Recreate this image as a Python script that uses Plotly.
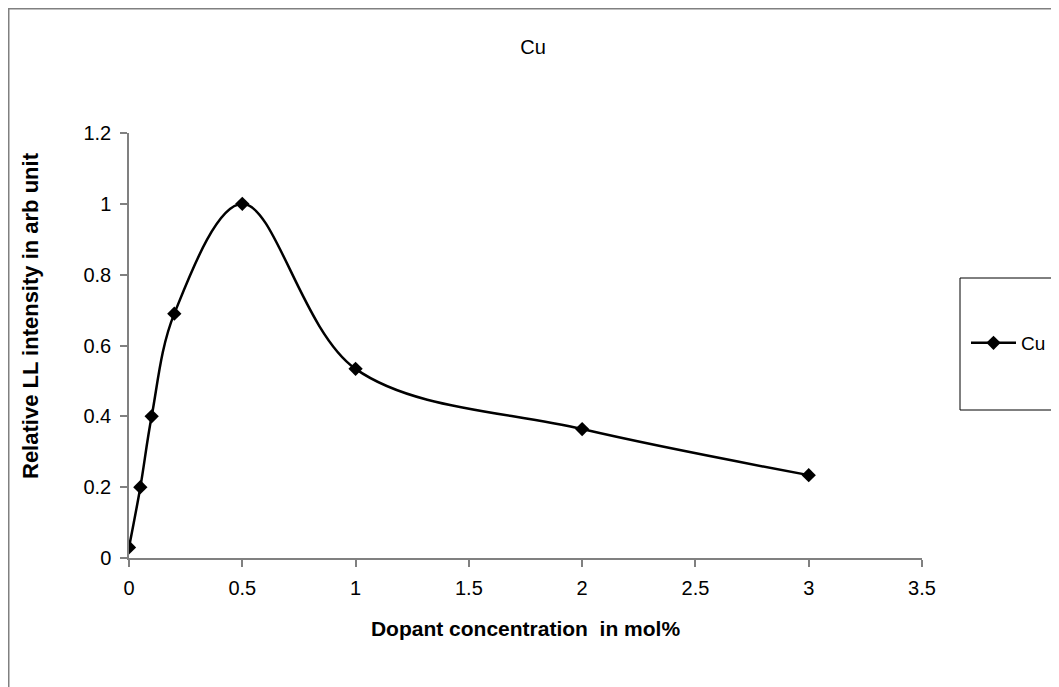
import plotly.graph_objects as go

x_vals = [0, 0.05, 0.1, 0.2, 0.5, 1, 2, 3]
y_vals = [0.03, 0.20, 0.40, 0.69, 1.0, 0.534, 0.364, 0.234]
series_name = "Cu"
chart_title = "Cu"
x_title = "Dopant concentration  in mol%"
y_title = "Relative LL intensity in arb unit"
x_ticks = [0, 0.5, 1, 1.5, 2, 2.5, 3, 3.5]
y_ticks = [0, 0.2, 0.4, 0.6, 0.8, 1, 1.2]

# page body has an 8px margin; figure coords = screen - 8
W, H = 1051, 679
L, R, T, B = 121, 137, 125, 129
FONT = "Liberation Sans, Arial, sans-serif"


def px_x(p):
    return (p - L) / (W - L - R)


def px_y(p):
    return (H - B - p) / (H - T - B)


fig = go.Figure()
fig.add_trace(go.Scatter(
    x=x_vals, y=y_vals, name=series_name, mode="lines+markers",
    line=dict(color="black", width=2.5, shape="spline", smoothing=1.0),
    marker=dict(symbol="diamond", size=11, color="black"),
))

axis_common = dict(showline=True, linecolor="#808080", linewidth=1.5,
                   ticks="outside", ticklen=7, tickcolor="#808080", tickwidth=1.5,
                   showgrid=False, zeroline=False,
                   tickfont=dict(size=20, family=FONT, color="black"))

fig.update_layout(
    width=W, height=H,
    margin=dict(l=L, r=R, t=T, b=B, autoexpand=False),
    paper_bgcolor="white", plot_bgcolor="white",
    font=dict(family=FONT, size=20, color="black"),
    title=dict(text=chart_title, xref="container", x=525 / W, xanchor="center",
               yref="container", y=1 - 39 / H, yanchor="middle", font=dict(size=20)),
    showlegend=True,
    legend=dict(x=px_x(958), xanchor="left", y=px_y(335), yanchor="middle",
                bgcolor="rgba(0,0,0,0)", borderwidth=0,
                font=dict(size=19, family=FONT), itemwidth=45),
    xaxis=dict(range=[0, 3.5], tickvals=x_ticks, ticklabelstandoff=4,
               title=dict(text=x_title, standoff=24,
                          font=dict(size=21, family=FONT, weight="bold")),
               **axis_common),
    yaxis=dict(range=[0, 1.2], tickvals=y_ticks, ticklabelstandoff=5,
               **axis_common),
)

# y-axis title (centred on the chart area, as in the reference)
fig.add_annotation(text=y_title, xref="paper", yref="paper",
                   x=px_x(22), y=px_y(308), xanchor="center", yanchor="middle",
                   textangle=-90, showarrow=False,
                   font=dict(size=22, family=FONT, weight="bold", color="black"))

# chart area border
fig.add_shape(type="rect", xref="paper", yref="paper",
              x0=px_x(0.75), x1=px_x(1100), y0=px_y(720), y1=px_y(0.75),
              line=dict(color="#808080", width=1.5), fillcolor="rgba(0,0,0,0)")
# legend box
fig.add_shape(type="rect", xref="paper", yref="paper",
              x0=px_x(952), x1=px_x(1100), y0=px_y(402), y1=px_y(270),
              line=dict(color="black", width=1), fillcolor="rgba(0,0,0,0)")

fig.write_html("out.html")
